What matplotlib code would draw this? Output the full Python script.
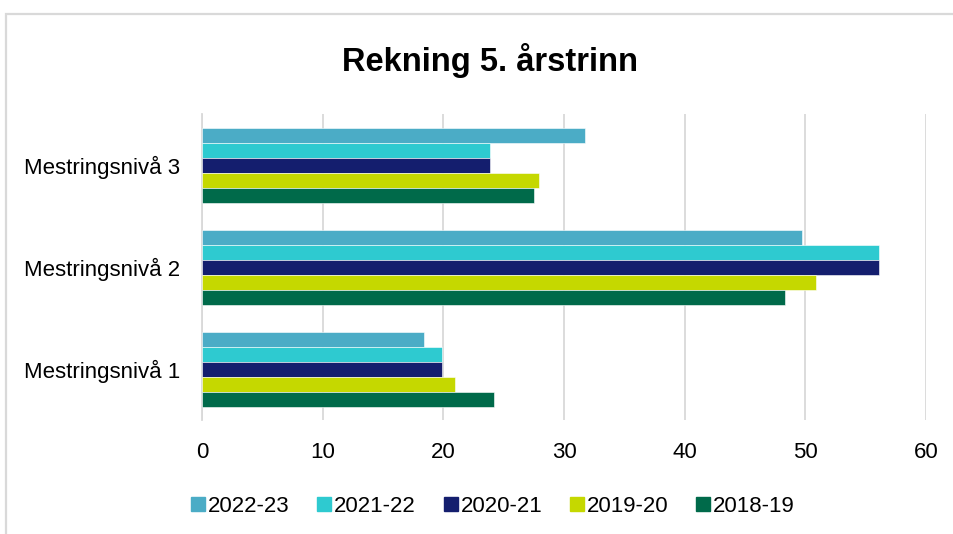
import matplotlib
matplotlib.use('Agg')
import matplotlib.pyplot as plt
from matplotlib.patches import Rectangle
from matplotlib.lines import Line2D
import numpy as np

plt.rcParams['font.family'] = ['Liberation Sans', 'DejaVu Sans']

categories = ['Mestringsnivå 1', 'Mestringsnivå 2', 'Mestringsnivå 3']
years = ['2022-23', '2021-22', '2020-21', '2019-20', '2018-19']
colors = ['#4BACC6', '#2ECAD0', '#141E6E', '#C5D800', '#006A4A']

# values per year, in category order (nivå 1, 2, 3)
v_2022_23 = [18.4, 49.7, 31.7]
v_2021_22 = [19.9, 56.1, 23.9]
v_2020_21 = [19.9, 56.1, 23.9]
v_2019_20 = [21.0, 50.9, 27.9]
v_2018_19 = [24.2, 48.3, 27.5]
series = [v_2022_23, v_2021_22, v_2020_21, v_2019_20, v_2018_19]

W, H = 954, 534
fig = plt.figure(figsize=(W / 100, H / 100), dpi=100)
ax = fig.add_axes([202 / W, 1 - 420 / H, 724 / W, 306 / H])

bh = 15 / 102
y = np.arange(len(categories))
for i, (vals, c) in enumerate(zip(series, colors)):
	off = (2 - i) * bh
	ax.barh(y + off, vals, height=bh, color=c, edgecolor='white', linewidth=0.4, zorder=3)

ax.set_xlim(0, 60)
ax.set_ylim(-0.5, 2.5)
ax.set_xticks(range(0, 61, 10))
ax.set_yticks(y)
ax.set_yticklabels(categories)
ax.grid(axis='x', color='#D9D9D9', linewidth=1.3, zorder=0)
for s in ['top', 'right', 'bottom']:
	ax.spines[s].set_visible(False)
ax.spines['left'].set_color('#D9D9D9')
ax.spines['left'].set_linewidth(1.3)
ax.tick_params(axis='both', length=0, labelsize=16, colors='black')
ax.tick_params(axis='x', pad=16)
ax.tick_params(axis='y', pad=16)

fig.text(490 / W, 1 - 61 / H, 'Rekning 5. årstrinn', ha='center', va='center',
	fontsize=23.5, fontweight='bold')

handles = [Line2D([], [], marker='s', linestyle='none', markersize=10,
	markerfacecolor=c, markeredgecolor=c) for c in colors]
fig.legend(handles, years, loc='center', bbox_to_anchor=(492 / W, 1 - 506 / H),
	ncol=5, frameon=False, fontsize=16, handletextpad=0.05, columnspacing=1.15,
	handlelength=0.8)

fig.patches.append(Rectangle((6 / W, -0.05), 1.1, 1 - 14 / H + 0.05,
	transform=fig.transFigure, fill=False, edgecolor='#D9D9D9', linewidth=1.6))

fig.savefig('out.png', dpi=100)
